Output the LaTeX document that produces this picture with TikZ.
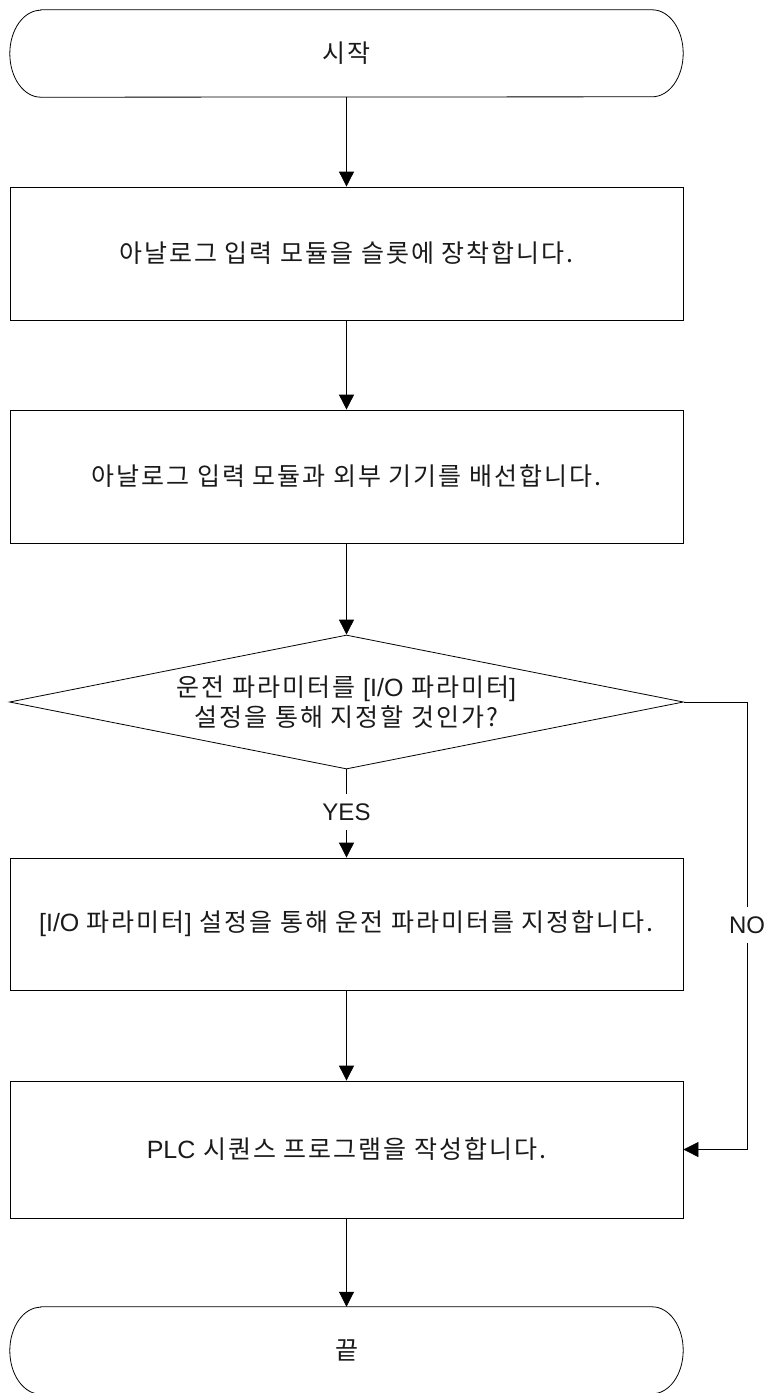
\documentclass[tikz,border=0pt]{standalone}
\usepackage{fontspec}
\setmainfont{Noto Sans CJK KR}[LetterSpace=8]
\newfontfamily\latfont{Liberation Sans}
\usetikzlibrary{shapes.geometric,arrows.meta}
\definecolor{FCStroke}{HTML}{000000}
\definecolor{FCText}{HTML}{1A1A1A}
\newcommand{\lat}[1]{{\latfont #1}}
\newcommand{\termoutline}[1]{%
  \draw[draw=FCStroke,line width=0.8pt] ([xshift=31pt]#1.north west) -- ([xshift=-31pt]#1.north east)
    arc[start angle=90,end angle=-90,x radius=31pt,y radius=43.5pt] -- ([xshift=31pt]#1.south west)
    arc[start angle=270,end angle=90,x radius=31pt,y radius=43.5pt] -- cycle;}

\begin{document}
\begin{tikzpicture}[x=1pt,y=-1pt,font=\fontsize{25}{30}\selectfont,
  stepbox/.style={draw=FCStroke,line width=0.8pt,minimum width=673pt,text=FCText,align=center,inner sep=0pt},
  termbox/.style={minimum width=673pt,minimum height=87pt,text=FCText,inner sep=0pt},
  askbox/.style={diamond,aspect=5,draw=FCStroke,line width=0.8pt,minimum width=674pt,minimum height=134pt,text=FCText,align=center,inner sep=0pt},
  branch/.style={inner sep=9pt,text=FCText,font=\latfont\fontsize{24}{24}\selectfont},
  flowline/.style={draw=FCStroke,line width=0.8pt},
  flow/.style={flowline,-{Triangle[length=15pt,width=15pt]}}]
  \useasboundingbox (0,0) rectangle (767,1393);

  \node[termbox] (start) at (346.5,53.5) {시작};
  \node[stepbox,minimum height=133pt] (mount) at (346.5,253.5) {아날로그 입력 모듈을 슬롯에 장착합니다.};
  \node[stepbox,minimum height=133pt] (wire) at (346.5,476.5) {아날로그 입력 모듈과 외부 기기를 배선합니다.};
  \node[askbox] (ask) at (346.5,702) {운전 파라미터를 \lat{[I/O} 파라미터\lat{]}\\설정을 통해 지정할 것인가?};
  \node[branch] (yes) at (346.5,812) {YES};
  \node[branch] (no) at (747,925) {NO};
  \node[stepbox,minimum height=132pt] (setpar) at (346.5,924) {\lat{[I/O} 파라미터\lat{]} 설정을 통해 운전 파라미터를 지정합니다.};
  \node[stepbox,minimum height=137pt] (plc) at (346.5,1149.5) {\lat{PLC} 시퀀스 프로그램을 작성합니다.};
  \node[termbox] (finish) at (346.5,1350.5) {끝};

  \termoutline{start}
  \termoutline{finish}

  \draw[flow] (start) -- (mount);
  \draw[flow] (mount) -- (wire);
  \draw[flow] (wire) -- (ask);
  \draw[flowline] (ask) -- (yes);
  \draw[flow] (yes) -- (setpar);
  \draw[flowline] (ask.east) -| (no);
  \draw[flow] (no) |- (plc.east);
  \draw[flow] (setpar) -- (plc);
  \draw[flow] (plc) -- (finish);
\end{tikzpicture}
\end{document}
